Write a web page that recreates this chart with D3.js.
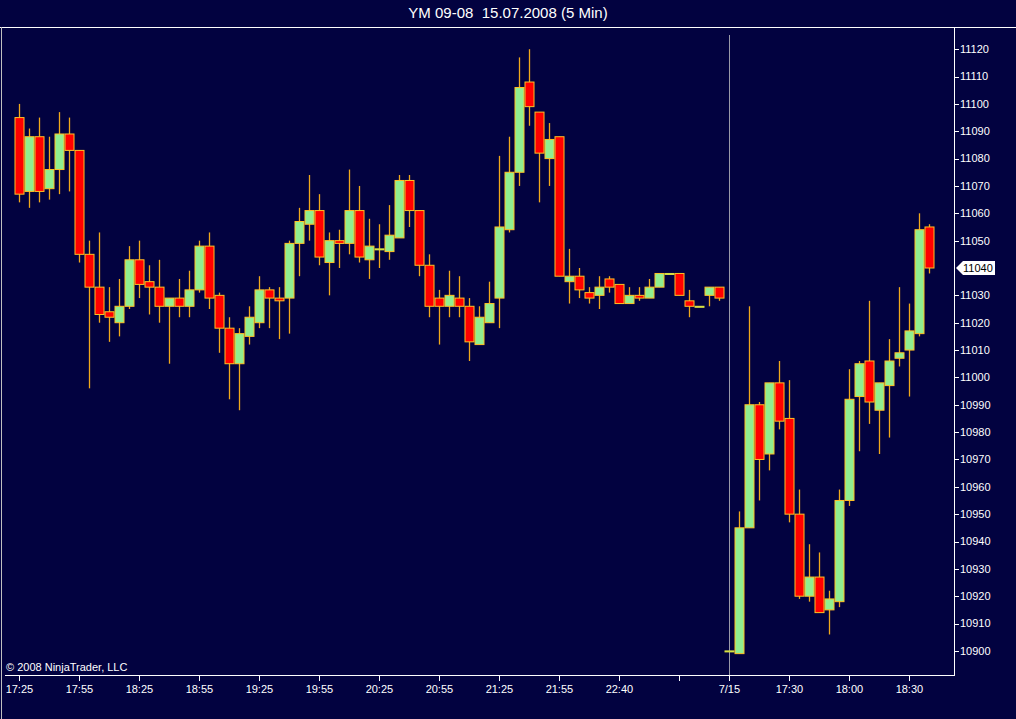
<!DOCTYPE html>
<html>
<head>
<meta charset="utf-8">
<script src="https://cdn.jsdelivr.net/npm/d3@7"></script>
<style>
  body { margin: 0; background: #020240; }
  text { font-family: "Liberation Sans", Arial, sans-serif; }
</style>
</head>
<body>
<svg id="chart"></svg>
<script>
// YM 09-08, 5 min bars, one value per bar
var opens = [11095, 11068, 11088, 11069, 11076, 11089, 11083, 11045, 11033, 11024,
  11020, 11026, 11043, 11035, 11033, 11026, 11029, 11026, 11032, 11048,
  11030, 11018, 11005, 11015, 11020, 11032, 11029, 11029, 11049, 11056,
  11061, 11042, 11050, 11049, 11061, 11043, 11047, 11046, 11051, 11072,
  11061, 11041, 11029, 11026, 11029, 11026, 11012, 11020, 11029, 11054,
  11075, 11108, 11097, 11080, 11088, 11035, 11037, 11031, 11030, 11036,
  11034, 11027, 11030, 11029, 11033, 11038, 11038, 11028, 11026, 11030,
  11033, 10900, 10899, 10945, 10990, 10972, 10998, 10985, 10950, 10920,
  10927, 10915, 10918, 10955, 10993, 11006, 10988, 10997, 11007, 11010,
  11016, 11055];
var highs = [11100, 11091, 11095, 11088, 11097, 11095, 11083, 11050, 11053, 11033,
  11036, 11048, 11050, 11041, 11043, 11029, 11036, 11039, 11050, 11053,
  11031, 11022, 11018, 11026, 11037, 11033, 11033, 11050, 11062, 11074,
  11067, 11053, 11054, 11076, 11070, 11058, 11056, 11063, 11074, 11074,
  11061, 11045, 11032, 11039, 11037, 11029, 11026, 11035, 11081, 11088,
  11117, 11120, 11097, 11093, 11088, 11047, 11040, 11033, 11037, 11037,
  11034, 11033, 11033, 11036, 11038, 11038, 11038, 11032, 11026, 11033,
  11033, 10900, 10951, 11026, 10991, 10998, 11006, 10999, 10959, 10939,
  10936, 10922, 10959, 11003, 11006, 11028, 10998, 11014, 11033, 11027,
  11060, 11056];
var lows = [11064, 11062, 11064, 11065, 11067, 11068, 11042, 10996, 11020, 11013,
  11015, 11025, 11029, 11023, 11020, 11005, 11022, 11022, 11031, 11025,
  11009, 10992, 10988, 11012, 11018, 11018, 11014, 11016, 11037, 11050,
  11041, 11030, 11040, 11045, 11042, 11036, 11040, 11043, 11051, 11055,
  11037, 11022, 11012, 11022, 11022, 11006, 11012, 11020, 11018, 11053,
  11070, 11092, 11064, 11070, 11037, 11027, 11029, 11027, 11025, 11031,
  11027, 11027, 11028, 11029, 11033, 11038, 11030, 11022, 11026, 11026,
  11028, 10900, 10899, 10945, 10955, 10966, 10981, 10947, 10919, 10918,
  10914, 10906, 10916, 10953, 10973, 10983, 10972, 10978, 11004, 10993,
  11015, 11038];
var closes = [11067, 11088, 11068, 11076, 11089, 11083, 11045, 11033, 11023, 11022,
  11026, 11043, 11034, 11033, 11026, 11029, 11026, 11032, 11048, 11029,
  11018, 11005, 11016, 11022, 11032, 11029, 11028, 11049, 11057, 11061,
  11044, 11050, 11049, 11061, 11044, 11048, 11047, 11052, 11072, 11061,
  11041, 11026, 11026, 11030, 11026, 11013, 11022, 11027, 11055, 11075,
  11106, 11099, 11082, 11087, 11037, 11037, 11032, 11029, 11033, 11033,
  11027, 11030, 11029, 11033, 11038, 11038, 11030, 11026, 11026, 11033,
  11029, 10900, 10945, 10990, 10970, 10998, 10984, 10950, 10920, 10927,
  10914, 10919, 10955, 10992, 11005, 10991, 10998, 11006, 11009, 11017,
  11054, 11040];

// time axis: bar index of each labelled tick
var tickBars = [0, 6, 12, 18, 24, 30, 36, 42, 48, 54, 60, 66, 71, 77, 83, 89];
var tickLabels = ["17:25", "17:55", "18:25", "18:55", "19:25", "19:55", "20:25", "20:55",
  "21:25", "21:55", "22:40", "", "7/15", "17:30", "18:00", "18:30"];
var priceTicks = d3.range(10900, 11121, 10);
var sessionBar = 71;
var lastPrice = 11040;

var width = 1016, height = 719;
var plotRight = 954, plotBottom = 675, plotTop = 27;

var bg = "#020240", upColor = "#90ee90", downColor = "#ff0000";
var outlineColor = "#ffc125", wickColor = "#f0a81c";

var bars = opens.map(function(o, i) {
  return { i: i, open: o, high: highs[i], low: lows[i], close: closes[i] };
});

var svg = d3.select("#chart").attr("width", width).attr("height", height);

svg.append("rect").attr("width", width).attr("height", height).attr("fill", bg);

var x = d3.scaleLinear().domain([0, 91]).range([19.4, 929.4]);
var y = d3.scaleLinear().domain([10900, 11120]).range([650.9, 49.2]);

// title
svg.append("text")
  .attr("x", width / 2)
  .attr("y", 18)
  .attr("text-anchor", "middle")
  .attr("fill", "white")
  .style("font-size", "15px")
  .style("white-space", "pre")
  .text("YM 09-08  15.07.2008 (5 Min)");

// frame lines
svg.append("line")
  .attr("x1", 0).attr("x2", width).attr("y1", plotTop + 0.5).attr("y2", plotTop + 0.5)
  .attr("stroke", "white");
svg.append("line")
  .attr("x1", 1.5).attr("x2", 1.5).attr("y1", plotTop).attr("y2", height)
  .attr("stroke", "#c0c0c0");

// session break
svg.append("line")
  .attr("x1", Math.round(x(sessionBar)) + 0.5).attr("x2", Math.round(x(sessionBar)) + 0.5)
  .attr("y1", 35).attr("y2", plotBottom)
  .attr("stroke", "#9a9aa8").attr("stroke-width", 1);

// wicks
svg.append("g")
  .selectAll("line")
  .data(bars)
  .enter()
  .append("line")
  .attr("x1", d => Math.round(x(d.i)) + 0.5)
  .attr("x2", d => Math.round(x(d.i)) + 0.5)
  .attr("y1", d => y(d.high))
  .attr("y2", d => y(d.low))
  .attr("stroke", wickColor)
  .attr("stroke-width", 1.3);

// bodies
svg.append("g")
  .selectAll("rect")
  .data(bars)
  .enter()
  .append("rect")
  .attr("x", d => Math.round(x(d.i)) - 4)
  .attr("width", 9)
  .attr("y", d => y(Math.max(d.open, d.close)))
  .attr("height", d => Math.max(1, Math.abs(y(d.open) - y(d.close))))
  .attr("fill", d => d.close >= d.open ? upColor : downColor)
  .attr("stroke", d => d.close == d.open ? "#d8e040" : outlineColor)
  .attr("stroke-width", 1);

// price axis (the last price marker replaces its own tick)
var axisTicks = priceTicks.filter(d => d != lastPrice);
var yAxis = svg.append("g");
yAxis.append("line")
  .attr("x1", plotRight + 0.5).attr("x2", plotRight + 0.5)
  .attr("y1", plotTop).attr("y2", plotBottom)
  .attr("stroke", "white");
yAxis.selectAll(".ptick")
  .data(axisTicks)
  .enter()
  .append("line")
  .attr("class", "ptick")
  .attr("x1", plotRight).attr("x2", plotRight + 5)
  .attr("y1", d => Math.round(y(d)) + 0.5)
  .attr("y2", d => Math.round(y(d)) + 0.5)
  .attr("stroke", "white");
yAxis.selectAll(".plabel")
  .data(axisTicks)
  .enter()
  .append("text")
  .attr("class", "plabel")
  .attr("x", plotRight + 6)
  .attr("y", d => y(d))
  .attr("dy", "0.35em")
  .attr("fill", "white")
  .style("font-size", "11px")
  .text(d => d);

// last price marker
var my = y(lastPrice);
svg.append("path")
  .attr("d", "M" + (plotRight + 2) + "," + my + " L" + (plotRight + 9) + "," + (my - 7) +
    " L" + 995 + "," + (my - 7) + " L" + 995 + "," + (my + 7) +
    " L" + (plotRight + 9) + "," + (my + 7) + " Z")
  .attr("fill", "white");
svg.append("text")
  .attr("x", plotRight + 9)
  .attr("y", my)
  .attr("dy", "0.35em")
  .attr("fill", "black")
  .style("font-size", "11px")
  .text(lastPrice);

// time axis
var xAxis = svg.append("g");
xAxis.append("line")
  .attr("x1", 5).attr("x2", plotRight + 1)
  .attr("y1", plotBottom + 0.5).attr("y2", plotBottom + 0.5)
  .attr("stroke", "white");
xAxis.selectAll(".ttick")
  .data(tickBars)
  .enter()
  .append("line")
  .attr("class", "ttick")
  .attr("x1", d => Math.round(x(d)) + 0.5)
  .attr("x2", d => Math.round(x(d)) + 0.5)
  .attr("y1", plotBottom)
  .attr("y2", plotBottom + 6)
  .attr("stroke", "white");
xAxis.selectAll(".tlabel")
  .data(tickBars)
  .enter()
  .append("text")
  .attr("class", "tlabel")
  .attr("x", d => x(d))
  .attr("y", plotBottom + 18)
  .attr("text-anchor", "middle")
  .attr("fill", "white")
  .style("font-size", "11px")
  .text((d, i) => tickLabels[i]);

svg.append("text")
  .attr("x", 6)
  .attr("y", 671)
  .attr("fill", "white")
  .style("font-size", "11px")
  .text("\u00a9 2008 NinjaTrader, LLC");
</script>
</body>
</html>
